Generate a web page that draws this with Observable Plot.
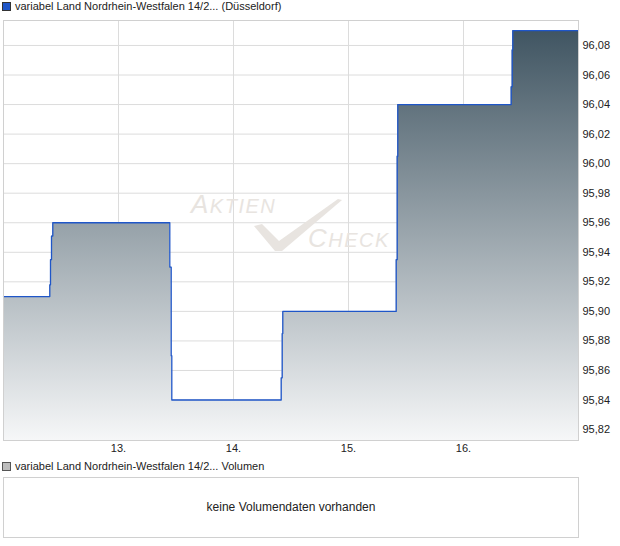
<!DOCTYPE html>
<html><head><meta charset="utf-8">
<script src="https://cdn.jsdelivr.net/npm/d3@7"></script>
<script src="https://cdn.jsdelivr.net/npm/@observablehq/plot@0.6"></script>
<style>
body{margin:0;background:#fff;font-family:"Liberation Sans",Arial,sans-serif;}
#wrap{position:relative;width:620px;height:546px;overflow:hidden;}
.legend{position:absolute;left:0;font-size:11px;color:#222;height:14px;line-height:14px;white-space:nowrap;}
.sw{position:absolute;left:2px;top:2px;width:7px;height:7px;border:1px solid #333;}
.legend span.t{position:absolute;left:15px;top:-1px;}
#main{position:absolute;left:0;top:14px;}
#vol{position:absolute;left:0;top:474px;}
</style></head><body>
<div id="wrap">
<div class="legend" id="leg1" style="top:0"><div class="sw" style="background:#1f56c8;"></div><span class="t"></span></div>
<div id="main"></div>
<div class="legend" id="leg2" style="top:460px"><div class="sw" style="background:#bdbdbd;border-color:#555"></div><span class="t"></span></div>
<div id="vol"></div>
</div>
<script>
// ---- data ----
const seriesName = "variabel Land Nordrhein-Westfalen 14/2...";
const exchangeName = "(Düsseldorf)";
const volumeName = "Volumen";
const noVolumeText = "keine Volumendaten vorhanden";
// time in days of the month (fractional = intraday)
const times  = [12.0, 12.4026, 12.4087, 12.4174, 12.4287, 13.4461, 13.4583, 13.4635, 14.4148, 14.4235, 14.4287, 15.4148, 15.4235, 15.4287, 16.4148, 16.4235, 16.4287, 17.0];
const prices = [95.91, 95.918, 95.935, 95.951, 95.96, 95.93, 95.87, 95.84, 95.855, 95.885, 95.90, 95.935, 96.005, 96.04, 96.052, 96.077, 96.09, 96.09];
const xTicks = [13, 14, 15, 16];
const xTickLabels = ["13.", "14.", "15.", "16."];
const yTicks = [95.82, 95.84, 95.86, 95.88, 95.90, 95.92, 95.94, 95.96, 95.98, 96.00, 96.02, 96.04, 96.06, 96.08];
const xDomain = [12, 17];
const yDomain = [95.8126, 96.0969];
const watermarkWords = ["Aktien", "Check"];

const data = times.map((t, i) => ({t, p: prices[i]}));
const deFmt = d => d3.format(".2f")(d).replace(".", ",");
const font = "'Liberation Sans', Arial, sans-serif";

document.querySelector("#leg1 .t").textContent = seriesName + " " + exchangeName;
document.querySelector("#leg2 .t").textContent = seriesName + " " + volumeName;

const gradDefs = () => {
  const defs = d3.create("svg:defs");
  const g = defs.append("linearGradient").attr("id", "areaGrad")
    .attr("x1", 0).attr("y1", 0).attr("x2", 0).attr("y2", 1);
  g.append("stop").attr("offset", "0%").attr("stop-color", "#405562");
  g.append("stop").attr("offset", "100%").attr("stop-color", "#f6f7f8");
  return defs.node();
};

const watermark = (index, scales, values, dim) => {
  const x0 = dim.marginLeft, y0 = dim.marginTop;
  const col = "#e8e4e0";
  const g = d3.create("svg:g").attr("fill", col).attr("font-family", font)
    .attr("font-style", "italic").attr("text-anchor", "start");
  const wordAt = (word, x, y) => {
    const t = g.append("text").attr("x", x).attr("y", y).attr("letter-spacing", 1.5);
    t.append("tspan").attr("font-size", 26).text(word[0].toUpperCase());
    t.append("tspan").attr("font-size", 20).text(word.slice(1).toUpperCase());
  };
  wordAt(watermarkWords[0], x0 + 188, y0 + 193);
  wordAt(watermarkWords[1], x0 + 305, y0 + 227);
  const pts = [[251,209],[259,207],[276,224],[335,182],[339,183],[279,234],[272,234]]
    .map(([a,b]) => [x0 + a, y0 + b - 3]);
  g.append("path").attr("d", "M" + pts.join("L") + "Z");
  return g.node();
};

const main = Plot.plot({
  width: 620, height: 446,
  marginTop: 6, marginBottom: 20, marginLeft: 3, marginRight: 42,
  style: {fontFamily: font, fontSize: "11px", color: "#222", background: "transparent", overflow: "visible"},
  x: {domain: xDomain},
  y: {domain: yDomain},
  marks: [
    gradDefs,
    Plot.gridY(yTicks, {stroke: "#dcdcdc", strokeOpacity: 1}),
    Plot.gridX(xTicks, {stroke: "#dcdcdc", strokeOpacity: 1}),
    watermark,
    Plot.areaY(data, {x: "t", y1: yDomain[0], y2: "p", curve: "step-after", fill: "url(#areaGrad)"}),
    Plot.line(data, {x: "t", y: "p", curve: "step-after", stroke: "#1f56c8", strokeWidth: 1.3}),
    Plot.frame({stroke: "#d0d0d0"}),
    Plot.axisY(yTicks, {anchor: "right", tickSize: 0, tickPadding: 4, tickFormat: deFmt, label: null, fill: "#222"}),
    Plot.axisX(xTicks, {anchor: "bottom", tickSize: 0, tickPadding: 4, tickFormat: (d, i) => xTickLabels[i], label: null, fill: "#222"})
  ]
});
document.getElementById("main").append(main);

const vol = Plot.plot({
  width: 620, height: 64,
  marginTop: 3, marginBottom: 1, marginLeft: 3, marginRight: 42,
  style: {fontFamily: font, fontSize: "12px", color: "#222", background: "transparent"},
  x: {domain: [0, 1], axis: null},
  y: {domain: [0, 1], axis: null},
  marks: [
    Plot.frame({stroke: "#d0d0d0"}),
    Plot.text([noVolumeText], {text: d => d, frameAnchor: "middle", fontSize: 12, fill: "#222"})
  ]
});
document.getElementById("vol").append(vol);
</script>
</body></html>
